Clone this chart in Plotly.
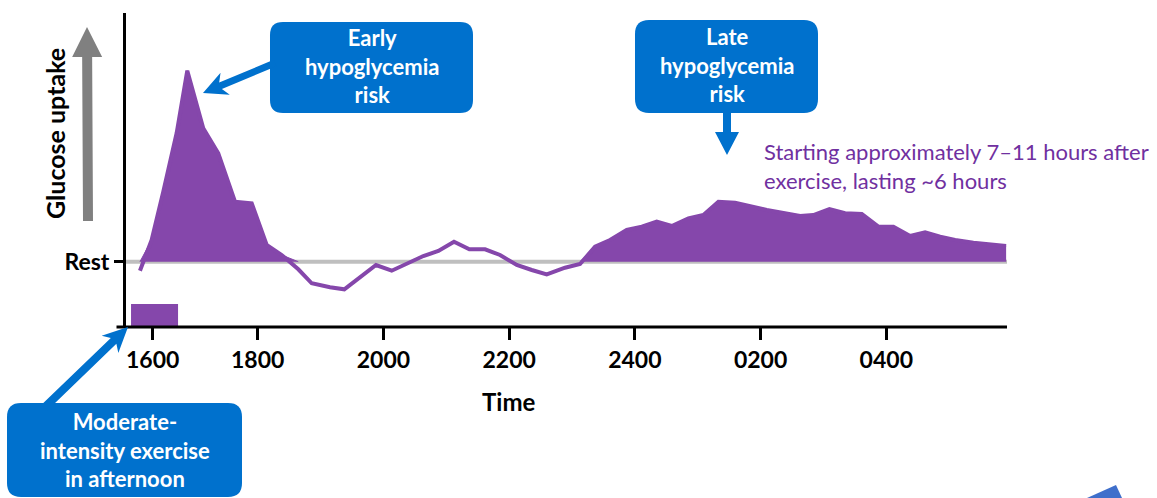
import numpy as np
import plotly.graph_objects as go

# Glucose uptake relative to resting level, by clock time (hours, 24+ = next day)
time_h = [16.127, 16.313, 16.498, 16.711, 16.880, 17.134, 17.373, 17.639, 17.905,
          18.143, 18.382, 18.646, 18.859, 19.150, 19.378, 19.882, 20.132, 20.635,
          20.874, 21.123, 21.367, 21.617, 21.855, 22.121, 22.360, 22.598, 22.889,
          23.128, 23.367, 23.605, 23.871, 24.110, 24.348, 24.587, 24.851, 25.090,
          25.329, 25.594, 26.099, 26.629, 26.840, 27.095, 27.344, 27.610, 27.874,
          28.113, 28.379, 28.617, 28.856, 29.095, 29.386, 29.906]
uptake = [-0.90, 2.17, 7.00, 12.87, 19.10, 13.34, 10.84, 6.00, 5.84,
          1.67, 0.67, -0.76, -2.16, -2.56, -2.76, -0.33, -0.90, 0.57,
          1.07, 2.00, 1.24, 1.24, 0.67, -0.33, -0.83, -1.26, -0.60,
          -0.23, 1.50, 2.17, 3.17, 3.50, 4.00, 3.57, 4.34, 4.67,
          6.00, 5.90, 5.17, 4.57, 4.67, 5.27, 4.84, 4.77, 3.50,
          3.50, 2.57, 2.94, 2.50, 2.17, 1.90, 1.57]

# Index ranges of the shaded early and late uptake periods
early_span = (0, 12)
late_span = (27, 52)

tick_vals = [16.33, 18, 20, 22, 24, 26, 28]
tick_text = ["1600", "1800", "2000", "2200", "2400", "0200", "0400"]

# Afternoon exercise bout
exercise_start, exercise_end = 15.985, 16.733
exercise_top = -4.23

x_range = [15.905, 29.92]
y_range = [-6.53, 24.87]

early_label = "Early<br>hypoglycemia<br>risk"
late_label = "Late<br>hypoglycemia<br>risk"
exercise_label = "Moderate-<br>intensity exercise<br>in afternoon"
late_note = "Starting approximately 7–11 hours after<br>exercise, lasting ~6 hours"

PURPLE = "#8547AB"
BLUE = "#0071CD"
GREY_REST = "#BFBFBF"
GREY_ARROW = "#808080"
NOTE_PURPLE = "#7030A0"
FONT = "Lato"

# Figure geometry (pixels)
FIG_W, FIG_H = 1157, 498
M_L, M_R, M_T, M_B = 126, 150, 13, 171
PLOT_W = FIG_W - M_L - M_R
PLOT_H = FIG_H - M_T - M_B


def px_x(px):
    return (px - M_L) / PLOT_W


def px_y(py):
    return (M_T + PLOT_H - py) / PLOT_H


def path_from_px(points, close=True):
    parts = []
    for cmd, coords in points:
        xy = " ".join(f"{px_x(x):.5f},{px_y(y):.5f}" for x, y in coords)
        parts.append(f"{cmd}{xy}")
    return " ".join(parts) + (" Z" if close else "")


def rounded_rect(x0, y0, x1, y1, r):
    return path_from_px([
        ("M", [(x0 + r, y0)]), ("L", [(x1 - r, y0)]), ("Q", [(x1, y0), (x1, y0 + r)]),
        ("L", [(x1, y1 - r)]), ("Q", [(x1, y1), (x1 - r, y1)]),
        ("L", [(x0 + r, y1)]), ("Q", [(x0, y1), (x0, y1 - r)]),
        ("L", [(x0, y0 + r)]), ("Q", [(x0, y0), (x0 + r, y0)]),
    ])


def block_arrow(tail, tip, shaft_w, head_len, head_w, notch=0.0):
    tx, ty = tail
    hx, hy = tip
    length = np.hypot(hx - tx, hy - ty)
    dx, dy = (hx - tx) / length, (hy - ty) / length
    nx, ny = -dy, dx
    bx, by = hx - dx * head_len, hy - dy * head_len
    jx, jy = bx + dx * notch, by + dy * notch
    pts = [
        (tx + nx * shaft_w / 2, ty + ny * shaft_w / 2),
        (jx + nx * shaft_w / 2, jy + ny * shaft_w / 2),
        (bx + nx * head_w / 2, by + ny * head_w / 2),
        (hx, hy),
        (bx - nx * head_w / 2, by - ny * head_w / 2),
        (jx - nx * shaft_w / 2, jy - ny * shaft_w / 2),
        (tx - nx * shaft_w / 2, ty - ny * shaft_w / 2),
    ]
    return path_from_px([("M", [pts[0]])] + [("L", [p]) for p in pts[1:]])


fig = go.Figure()

# Shaded periods of raised uptake, filled down to the resting level
for a, b in (early_span, late_span):
    fig.add_trace(go.Scatter(
        x=time_h[a:b], y=np.maximum(uptake[a:b], 0), mode="lines",
        line=dict(color=PURPLE, width=1), fill="tozeroy", fillcolor=PURPLE,
        hoverinfo="skip", showlegend=False,
    ))

# Uptake curve
fig.add_trace(go.Scatter(
    x=time_h, y=uptake, mode="lines",
    line=dict(color=PURPLE, width=4), showlegend=False,
))

shapes = [
    # resting level
    dict(type="line", xref="x", yref="y", x0=x_range[0], x1=x_range[1], y0=0, y1=0,
         line=dict(color=GREY_REST, width=4), layer="below"),
    # exercise bar
    dict(type="rect", xref="x", yref="y", x0=exercise_start, x1=exercise_end,
         y0=y_range[0], y1=exercise_top, fillcolor=PURPLE, line=dict(width=0),
         layer="below"),
    # x-axis line, running slightly past the y-axis
    dict(type="line", xref="paper", yref="paper", x0=px_x(116.5), x1=1, y0=0, y1=0,
         line=dict(color="black", width=3)),
    # callout boxes
    dict(type="path", xref="paper", yref="paper", path=rounded_rect(270, 22, 473, 113, 13),
         fillcolor=BLUE, line=dict(width=0)),
    dict(type="path", xref="paper", yref="paper", path=rounded_rect(635, 20, 818, 113, 14),
         fillcolor=BLUE, line=dict(width=0)),
    dict(type="path", xref="paper", yref="paper", path=rounded_rect(7, 403, 242, 497, 14),
         fillcolor=BLUE, line=dict(width=0)),
    # callout arrows
    dict(type="path", xref="paper", yref="paper",
         path=block_arrow((275, 63), (203, 93), 7, 24, 24, notch=5),
         fillcolor=BLUE, line=dict(width=0)),
    dict(type="path", xref="paper", yref="paper",
         path=block_arrow((727, 108), (727, 155), 8, 23, 24), fillcolor=BLUE, line=dict(width=0)),
    dict(type="path", xref="paper", yref="paper",
         path=block_arrow((44, 408), (128, 327), 8, 25, 24, notch=5),
         fillcolor=BLUE, line=dict(width=0)),
    # glucose uptake direction arrow
    dict(type="path", xref="paper", yref="paper",
         path=block_arrow((88, 221), (87, 27), 10, 30, 30), fillcolor=GREY_ARROW,
         line=dict(width=0)),
    # corner mark
    dict(type="path", xref="paper", yref="paper",
         path=path_from_px([("M", [(1087, 498)]), ("L", [(1116, 485)]),
                            ("L", [(1122, 498)])]),
         fillcolor="#3F6FCB", line=dict(width=0)),
]

white_bold = dict(family=FONT, size=22, color="white", weight="bold")
black_bold = dict(family=FONT, size=24, color="black", weight="bold")


def box_text(text, cx, cy):
    return dict(xref="paper", yref="paper", x=px_x(cx), y=px_y(cy), text=text,
                showarrow=False, font=white_bold, align="center",
                xanchor="center", yanchor="middle")


annotations = [
    box_text(early_label, 371.5, 66),
    box_text(late_label, 726.5, 65),
    box_text(exercise_label, 124.5, 450),
    dict(xref="paper", yref="paper", x=px_x(762), y=px_y(166), text=late_note,
         showarrow=False, font=dict(family=FONT, size=22, color=NOTE_PURPLE),
         align="left", xanchor="left", yanchor="middle"),
    dict(xref="paper", yref="paper", x=px_x(508), y=px_y(401), text="Time",
         showarrow=False, font=black_bold, xanchor="center", yanchor="middle"),
    dict(xref="paper", yref="paper", x=px_x(55), y=px_y(134), text="Glucose uptake",
         textangle=-90, showarrow=False,
         font=dict(family=FONT, size=25, color="black", weight="bold"),
         xanchor="center", yanchor="middle"),
]

fig.update_layout(
    width=FIG_W, height=FIG_H, autosize=False,
    margin=dict(l=M_L, r=M_R, t=M_T, b=M_B, pad=0),
    paper_bgcolor="white", plot_bgcolor="white",
    showlegend=False, shapes=shapes, annotations=annotations,
    xaxis=dict(range=x_range, tickmode="array", tickvals=tick_vals, ticktext=tick_text,
               showgrid=False, zeroline=False, showline=False,
               ticks="outside", ticklen=12, tickwidth=2.5, tickcolor="black",
               tickfont=dict(family=FONT, size=23, color="black", weight="bold"),
               fixedrange=True),
    yaxis=dict(range=y_range, tickmode="array", tickvals=[0], ticktext=["Rest"],
               showgrid=False, zeroline=False, showline=True, linecolor="black", linewidth=3,
               ticks="outside", ticklen=9, tickwidth=3, tickcolor="black",
               tickfont=dict(family=FONT, size=23, color="black", weight="bold"),
               fixedrange=True),
)

fig.write_html("out.html")
